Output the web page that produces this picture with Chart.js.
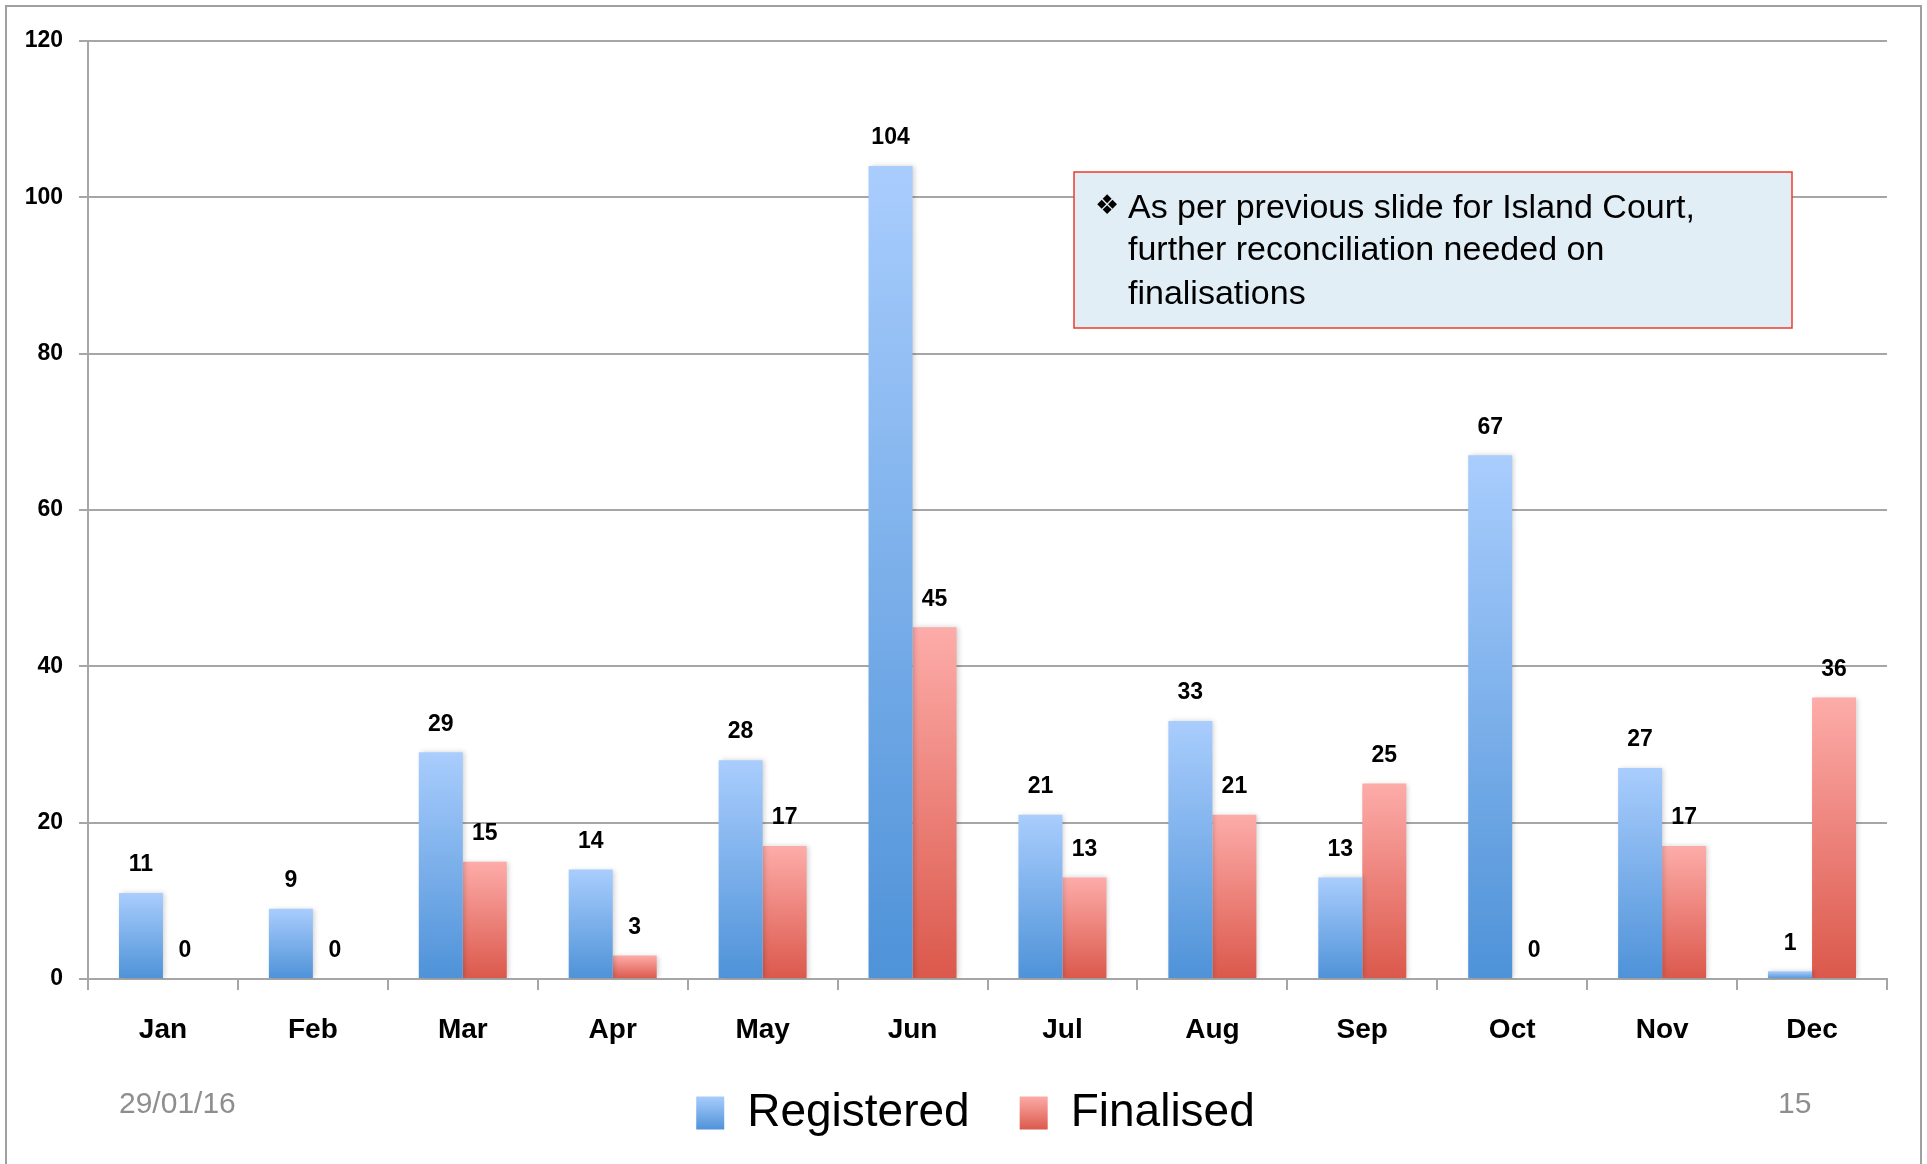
<!DOCTYPE html>
<html>
<head>
<meta charset="utf-8">
<script src="https://cdn.jsdelivr.net/npm/chart.js@4.4.1/dist/chart.umd.min.js"></script>
<style>
  html, body { margin: 0; padding: 0; background: #fff; }
</style>
</head>
<body>
<canvas id="chart" width="1927" height="1164"></canvas>
<script>
const months = ['Jan', 'Feb', 'Mar', 'Apr', 'May', 'Jun', 'Jul', 'Aug', 'Sep', 'Oct', 'Nov', 'Dec'];
const registered = [11, 9, 29, 14, 28, 104, 21, 33, 13, 67, 27, 1];
const finalised = [0, 0, 15, 3, 17, 45, 13, 21, 25, 0, 17, 36];
const noteLines = [
    'As per previous slide for Island Court,',
    'further reconciliation needed on',
    'finalisations'
];
const footerDate = '29/01/16';
const pageNumber = '15';

const FONT = '"Liberation Sans", Arial, sans-serif';
const GRID = '#A6A6A6';
const BLUE = ['#A9CDFD', '#4E92D8'];
const RED = ['#FDACA9', '#DB584B'];

function makeGradient(ctx, top, bottom, pair) {
    const g = ctx.createLinearGradient(0, top, 0, bottom);
    g.addColorStop(0, pair[0]);
    g.addColorStop(1, pair[1]);
    return g;
}

// vertical gradient per bar, light at the top, dark at the base
function gradientFill(pair) {
    return (c) => {
        const y = c.chart.scales.y;
        if (!y) return pair[1];
        const top = y.getPixelForValue(c.raw);
        const bottom = y.getPixelForValue(0);
        if (!isFinite(top) || !isFinite(bottom) || bottom - top < 1) return pair[1];
        return makeGradient(c.chart.ctx, top, bottom, pair);
    };
}

const valueLabels = {
    id: 'valueLabels',
    beforeDatasetsDraw(chart) {
        const ctx = chart.ctx;
        ctx.save();
        ctx.shadowColor = 'rgba(0,0,0,0.18)';
        ctx.shadowBlur = 5;
        ctx.shadowOffsetX = 2;
    },
    afterDatasetsDraw(chart) {
        const ctx = chart.ctx;
        ctx.restore();
        ctx.save();
        ctx.font = 'bold 23px ' + FONT;
        ctx.fillStyle = '#000';
        ctx.textAlign = 'center';
        ctx.textBaseline = 'middle';
        chart.data.datasets.forEach((ds, i) => {
            chart.getDatasetMeta(i).data.forEach((bar, j) => {
                ctx.fillText(String(ds.data[j]), bar.x, bar.y - 28);
            });
        });
        ctx.restore();
    }
};

// nudge the legend a little, as on the slide
const legendShift = {
    id: 'legendShift',
    afterLayout(chart) {
        const lg = chart.legend;
        if (lg) {
            lg.left += 32;
            lg.right += 32;
            lg.top -= 11;
            lg.bottom -= 11;
        }
    }
};

const slideDecor = {
    id: 'slideDecor',
    beforeDraw(chart) {
        const ctx = chart.ctx;
        ctx.save();
        ctx.strokeStyle = '#A0A0A0';
        ctx.lineWidth = 2;
        ctx.strokeRect(6, 6, 1915, 1200);
        ctx.restore();
    },
    afterDraw(chart) {
        const ctx = chart.ctx;
        ctx.save();
        // note box
        ctx.fillStyle = '#E1EEF6';
        ctx.fillRect(1074, 172, 718, 156);
        ctx.strokeStyle = '#EE3B2B';
        ctx.lineWidth = 1.5;
        ctx.strokeRect(1074, 172, 718, 156);
        ctx.fillStyle = '#000';
        ctx.textBaseline = 'middle';
        ctx.textAlign = 'left';
        ctx.font = '27px "DejaVu Sans", sans-serif';
        ctx.fillText('\u2756', 1095, 207);
        ctx.font = '34px ' + FONT;
        const ys = [209, 251, 295];
        noteLines.forEach((t, i) => ctx.fillText(t, 1128, ys[i]));
        // footer
        ctx.fillStyle = '#8E8E8E';
        ctx.font = '30px ' + FONT;
        ctx.fillText(footerDate, 119, 1105);
        ctx.fillText(pageNumber, 1778, 1105);
        ctx.restore();
    }
};

new Chart(document.getElementById('chart'), {
    type: 'bar',
    data: {
        labels: months,
        datasets: [
            {
                label: 'Registered',
                data: registered,
                backgroundColor: gradientFill(BLUE),
                borderWidth: 0,
                categoryPercentage: 0.587,
                barPercentage: 1
            },
            {
                label: 'Finalised',
                data: finalised,
                backgroundColor: gradientFill(RED),
                borderWidth: 0,
                categoryPercentage: 0.587,
                barPercentage: 1
            }
        ]
    },
    options: {
        responsive: false,
        animation: false,
        layout: { padding: { top: 41, right: 40, left: 0, bottom: 7 } },
        plugins: {
            legend: {
                position: 'bottom',
                labels: {
                    color: '#000',
                    font: { family: FONT, size: 46 },
                    boxWidth: 28,
                    boxHeight: 33,
                    padding: 50,
                    generateLabels(chart) {
                        const items = Chart.defaults.plugins.legend.labels.generateLabels(chart);
                        const pairs = [BLUE, RED];
                        items.forEach((it, i) => {
                            it.fillStyle = makeGradient(chart.ctx, 1096, 1130, pairs[i]);
                            it.lineWidth = 0;
                        });
                        return items;
                    }
                }
            },
            tooltip: { enabled: false }
        },
        scales: {
            x: {
                offset: true,
                grid: { offset: true, drawOnChartArea: false, drawTicks: true, tickLength: 11, color: GRID, lineWidth: 2 },
                border: { color: GRID, width: 2 },
                ticks: { color: '#000', font: { family: FONT, size: 28, weight: 'bold' }, padding: 23 },
                afterFit: (s) => { s.height = 72; }
            },
            y: {
                min: 0,
                max: 120,
                grid: { color: GRID, lineWidth: 2, tickLength: 9 },
                border: { color: GRID, width: 2 },
                ticks: { stepSize: 20, color: '#000', font: { family: FONT, size: 23, weight: 'bold' }, padding: 16 },
                afterFit: (s) => { s.width = 88; }
            }
        }
    },
    plugins: [valueLabels, legendShift, slideDecor]
});
</script>
</body>
</html>
